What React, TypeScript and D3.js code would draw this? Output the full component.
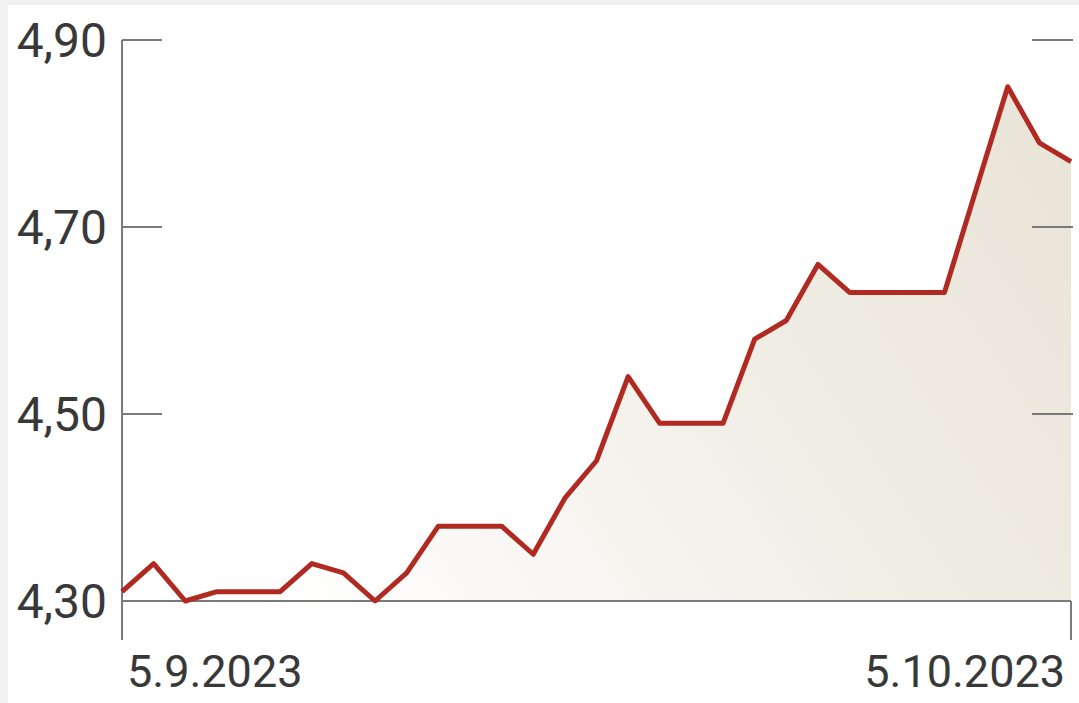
import React from "react";
import * as d3 from "d3";

const dates: string[] = [
  "2023-09-05","2023-09-06","2023-09-07","2023-09-08","2023-09-09","2023-09-10","2023-09-11",
  "2023-09-12","2023-09-13","2023-09-14","2023-09-15","2023-09-16","2023-09-17","2023-09-18",
  "2023-09-19","2023-09-20","2023-09-21","2023-09-22","2023-09-23","2023-09-24","2023-09-25",
  "2023-09-26","2023-09-27","2023-09-28","2023-09-29","2023-09-30","2023-10-01","2023-10-02",
  "2023-10-03","2023-10-04","2023-10-05",
];
const values: number[] = [
  4.31, 4.34, 4.30, 4.31, 4.31, 4.31, 4.34,
  4.33, 4.30, 4.33, 4.38, 4.38, 4.38, 4.35,
  4.41, 4.45, 4.54, 4.49, 4.49, 4.49, 4.58,
  4.60, 4.66, 4.63, 4.63, 4.63, 4.63, 4.74,
  4.85, 4.79, 4.77,
];
const yTicks: number[] = [4.3, 4.5, 4.7, 4.9];
const xLabels: { date: string; text: string }[] = [
  { date: "2023-09-05", text: "5.9.2023" },
  { date: "2023-10-05", text: "5.10.2023" },
];

const W = 1079;
const H = 703;
const left = 122;
const right = 1071;
const top = 40;
const bottom = 601;

export default function App() {
  const parse = d3.timeParse("%Y-%m-%d");
  const data = dates.map((d, i) => ({ date: parse(d) as Date, value: values[i] }));
  const x = d3
    .scaleTime()
    .domain([parse(dates[0]) as Date, parse(dates[dates.length - 1]) as Date])
    .range([left, right]);
  const y = d3.scaleLinear().domain([4.3, 4.9]).range([bottom, top]);

  const line = d3
    .line<{ date: Date; value: number }>()
    .x((d) => x(d.date))
    .y((d) => y(d.value));
  const area = d3
    .area<{ date: Date; value: number }>()
    .x((d) => x(d.date))
    .y0(y(4.3))
    .y1((d) => y(d.value));

  const fmt = (v: number) => v.toFixed(2).replace(".", ",");
  const axisColor = "#7a7a7a";
  const textColor = "#383838";
  const font = "Roboto, 'Open Sans', sans-serif";

  return (
    <div style={{ position: "fixed", left: 0, top: 0, width: W, height: H }}>
      <svg width={W} height={H} style={{ display: "block" }}>
        <defs>
          <linearGradient id="fillGrad" gradientUnits="userSpaceOnUse" x1={300} y1={640} x2={1071} y2={120}>
            <stop offset="0" stopColor="#ffffff" />
            <stop offset="0.55" stopColor="#f1eee6" />
            <stop offset="1" stopColor="#e8e4d7" />
          </linearGradient>
        </defs>
        <rect x={0} y={0} width={W} height={H} fill="#f1f1f1" />
        <rect x={8} y={5} width={W - 8} height={H - 5} fill="#ffffff" />

        <path d={area(data) || ""} fill="url(#fillGrad)" />

        {/* y axis */}
        <line x1={left} x2={left} y1={y(4.9)} y2={640} stroke={axisColor} strokeWidth={2} />
        {/* baseline */}
        <line x1={left} x2={right} y1={y(4.3)} y2={y(4.3)} stroke={axisColor} strokeWidth={2} />
        <line x1={right} x2={right} y1={y(4.3)} y2={640} stroke={axisColor} strokeWidth={2} />

        {yTicks.filter((t) => t > 4.3).map((t) => (
          <g key={t}>
            <line x1={left} x2={left + 40} y1={y(t)} y2={y(t)} stroke={axisColor} strokeWidth={2} />
            <line x1={right - 39} x2={right + 2} y1={y(t)} y2={y(t)} stroke={axisColor} strokeWidth={2} />
          </g>
        ))}

        {yTicks.map((t) => (
          <text
            key={"l" + t}
            x={107}
            y={y(t) + 17}
            textAnchor="end"
            fontFamily={font}
            fontSize={48}
            fill={textColor}
          >
            {fmt(t)}
          </text>
        ))}

        {xLabels.map((l, i) => (
          <text
            key={l.text}
            x={i === 0 ? x(parse(l.date) as Date) + 5 : x(parse(l.date) as Date) - 6}
            y={687}
            textAnchor={i === 0 ? "start" : "end"}
            fontFamily={font}
            fontSize={45}
            fill={textColor}
          >
            {l.text}
          </text>
        ))}

        <path
          d={line(data) || ""}
          fill="none"
          stroke="#b02a22"
          strokeWidth={5}
          strokeLinejoin="round"
          strokeLinecap="butt"
        />
      </svg>
    </div>
  );
}
